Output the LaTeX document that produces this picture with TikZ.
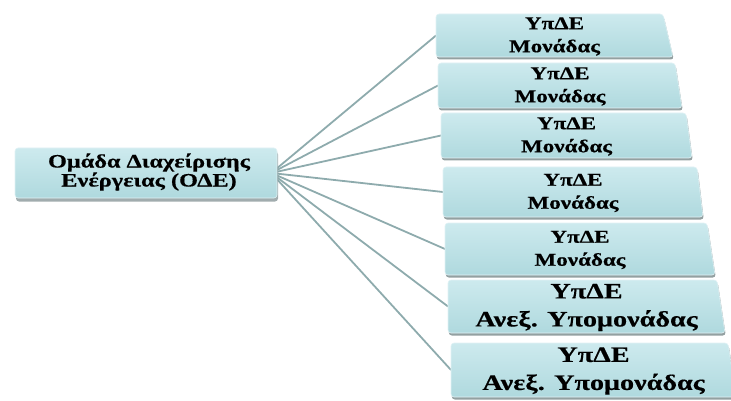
\documentclass[tikz,border=0pt]{standalone}
\usepackage{fontspec}
\setmainfont{Liberation Serif}[FakeStretch=1.28, BoldFeatures={FakeBold=0.5}]
\usetikzlibrary{shadows, positioning, backgrounds}

\definecolor{boxtop}{HTML}{CDEAEE}
\definecolor{boxbot}{HTML}{AFD9DE}
\definecolor{linkcol}{HTML}{8EABAD}
\definecolor{shadowcol}{HTML}{6F8082}

\tikzset{
    unitbox/.style={rectangle, inner sep=0pt, outer sep=0pt},
    unitfill/.style={top color=boxtop, bottom color=boxbot, rounded corners=3pt,
        draw=white!40!boxtop, line width=.6pt,
        drop shadow={shadow xshift=.8pt, shadow yshift=-2.5pt, fill=shadowcol, opacity=.75}},
    headbox/.style={rectangle, inner sep=2pt, rounded corners=3pt,
        top color=boxtop, bottom color=boxbot, draw=white!40!boxtop, line width=.6pt,
        minimum width=262pt, minimum height=50pt,
        drop shadow={shadow xshift=1pt, shadow yshift=-3.5pt, fill=shadowcol, opacity=.65}},
    headtext/.style={align=center, font=\bfseries\fontsize{19}{19}\selectfont, inner sep=0pt},
    unittext/.style={align=center, font=\bfseries\fontsize{18}{23}\selectfont, inner sep=0pt},
    subtext/.style={align=center, font=\bfseries\fontsize{22}{28}\selectfont, inner sep=0pt},
    link/.style={draw=linkcol, line width=1.8pt}
}

\begin{document}
\begin{tikzpicture}[x=1pt, y=1pt]
    \useasboundingbox (0,0) rectangle (731,-401);

    % Head group
    \node[headbox] (ode) at (146,-173) {};
    \node[headtext] (odetext) at ([xshift=3pt, yshift=1pt]ode.center) {Ομάδα Διαχείρισης\\Ενέργειας (ΟΔΕ)};

    % Units and sub-units (slightly widening towards the bottom)
    \foreach \i/\l/\t/\w/\h/\s/\st/\val in {
        1/436/14/227/43/10/unittext/{ΥπΔΕ\\Μονάδας},
        2/438/63/237/45/7/unittext/{ΥπΔΕ\\Μονάδας},
        3/441/113/245/45/6/unittext/{ΥπΔΕ\\Μονάδας},
        4/443/167/254/50/6/unittext/{ΥπΔΕ\\Μονάδας},
        5/445/223/262/52/8/unittext/{ΥπΔΕ\\Μονάδας},
        6/448/280/269/53/8/subtext/{ΥπΔΕ\\Ανεξ. Υπομονάδας},
        7/451/343/277/54/8/subtext/{ΥπΔΕ\\Ανεξ. Υπομονάδας}} {
        \node[unitbox, minimum width=\w pt, minimum height=\h pt, anchor=north west] (unit\i) at (\l,-\t) {};
        \shade[unitfill] (unit\i.north west) -- (unit\i.north east)
            -- ([xshift=\s pt]unit\i.south east) -- (unit\i.south west) -- cycle;
        \node[\st] (unittext\i) at ([xshift=\s pt/2, yshift=-1pt]unit\i.center) {\val};
    }

    % Links from the head group
    \begin{scope}[on background layer]
    \foreach \i in {1,...,7} {
        \draw[link] ([xshift=-6pt]ode.east) -- (unit\i.west);
    }
    \end{scope}
\end{tikzpicture}
\end{document}
